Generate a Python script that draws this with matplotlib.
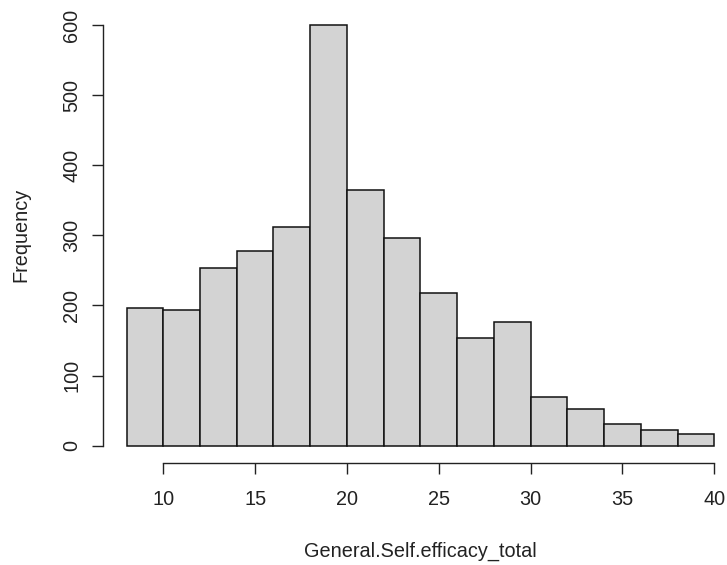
import numpy as np
import matplotlib
matplotlib.use("Agg")
import matplotlib.pyplot as plt

# histogram bins (width 2) and counts
bin_edges = np.arange(8, 42, 2)
counts = [197, 193, 253, 278, 312, 600, 364, 296, 218, 154, 176, 70, 53, 31, 22, 17]
x_ticks = [10, 15, 20, 25, 30, 35, 40]
y_ticks = [0, 100, 200, 300, 400, 500, 600]

plt.rcParams['font.family'] = ['Liberation Sans', 'DejaVu Sans']
plt.rcParams['font.size'] = 14.3
txt = '#222222'

fig = plt.figure(figsize=(7.27, 5.65), dpi=100)
# R-style plot region (runs a little past the right edge, like the crop)
ax = fig.add_axes([103 / 727, (565 - 462.5) / 565, 634.8 / 727, 454.3 / 565])

ax.bar(bin_edges[:-1], counts, width=2, align='edge',
       color='#d3d3d3', edgecolor='#111111', linewidth=1.1)

ax.set_xlim(6.72, 41.28)
ax.set_ylim(-24, 624)

ax.spines['top'].set_visible(False)
ax.spines['right'].set_visible(False)
ax.spines['left'].set_bounds(0, 600)
ax.spines['bottom'].set_bounds(10, 40)
for s in ('left', 'bottom'):
    ax.spines[s].set_linewidth(1.0)
    ax.spines[s].set_color('#222222')

ax.set_xticks(x_ticks)
ax.set_yticks(y_ticks)
ax.tick_params(axis='x', length=8, width=1.0, pad=11.5, colors=txt)
ax.tick_params(axis='y', length=8, width=1.0, pad=7.5, colors=txt)
for lab in ax.get_yticklabels():
    lab.set_rotation(90)
    lab.set_va('center')

ax.set_xlabel('General.Self.efficacy_total', color=txt)
ax.set_ylabel('Frequency', color=txt)
ax.xaxis.set_label_coords((420.4 - 103) / 634.8, -(551.7 - 462.5) / 454.3)
ax.yaxis.set_label_coords(-(103 - 21) / 634.8, 0.5)
ax.xaxis.label.set_va('center')
ax.yaxis.label.set_va('center')

fig.savefig('out.png', dpi=100)
